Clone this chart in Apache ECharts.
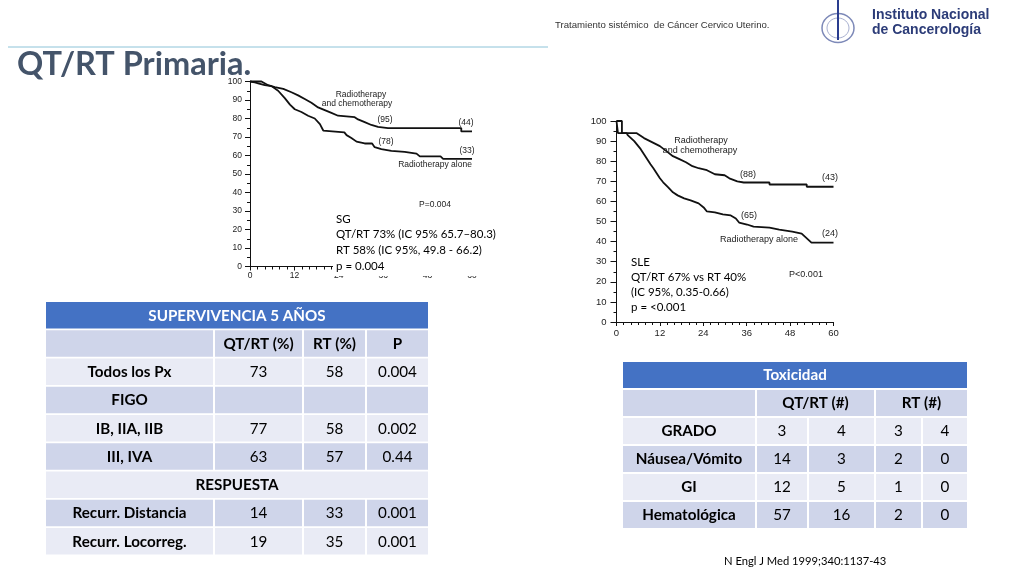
<!DOCTYPE html>
<html><head><meta charset="utf-8">
<script src="https://cdn.jsdelivr.net/npm/echarts@6/dist/echarts.min.js"></script>
<style>html,body{margin:0;padding:0;background:#fff}#c{width:1024px;height:576px}</style>
</head><body><div id="c"></div>
<script>
// ---------- DATA ----------
// Overall survival (SG), months vs % surviving
const sgChemo = [[0,100],[3.1,100],[3.1,99],[4.9,98],[6.7,97],[9.0,96],[11.2,94.2],[13.0,92.5],[14.8,90.5],[16.6,88.5],[18.4,86],[20.2,84.5],[22.0,83],[23.8,81.5],[24.3,80.7],[28.3,80.7],[29.2,79.5],[31.0,78],[32.8,76.5],[34.6,75.5],[37.3,74.8],[57.1,74.8],[57.1,73],[60,73]];
const sgRT = [[0,100],[1.3,99.5],[2.2,99],[4.0,98],[5.8,97.5],[7.6,95],[9.4,91],[10.8,87.5],[12.1,85],[13.9,83.5],[15.7,81.5],[17.5,80],[18.9,77],[19.8,73.5],[20.2,72.5],[25.5,72.5],[26.1,71],[27.4,69.5],[28.8,67.5],[31.0,66.5],[33.0,66.5],[33.7,64.5],[35.5,63.5],[38.2,62.5],[41.8,62],[45.0,61],[45.9,59.5],[51.5,59.5],[52.2,58.2],[60,58.2]];
// Disease-free survival (SLE)
const sleChemo = [[0,100],[1.5,100],[1.5,94],[5.5,94],[7.6,91.5],[9.8,89.5],[12,87.5],[13.8,85],[15.6,82.5],[17.4,81],[19.2,79.5],[21,77.5],[22.7,76.5],[25,75.5],[27.2,73.5],[29.9,73],[31.2,71.5],[33.4,70],[35.2,69.4],[42.3,69.4],[42.3,68.4],[52.6,68.4],[52.6,67.3],[60,67.3]];
const sleRT = [[0,100],[0.4,100],[0.4,94],[2.8,94],[3.1,93],[4,91.5],[4.9,90],[5.8,88],[6.7,86],[7.6,83.5],[8.5,81],[9.4,78.5],[10.2,76.5],[11.1,74],[12,71.5],[12.9,69.5],[14.3,67],[15.6,64.5],[16.9,63],[18.7,61.5],[20.5,60.5],[22.7,59],[24.1,57],[25,55],[27.2,54.5],[29.4,53.5],[31.6,53],[33,51.5],[33.9,49.5],[36.1,48.5],[37.9,47.5],[42.3,47],[45,46],[48.6,45],[51.2,44],[52.1,42.5],[53,41],[53.9,39.5],[60,39.5]];

const sgNotes = ['SG','QT/RT 73% (IC 95% 65.7–80.3)','RT 58% (IC 95%, 49.8 - 66.2)','p = 0.004'];
const sleNotes = ['SLE','QT/RT 67% vs RT 40%','(IC 95%, 0.35-0.66)','p = <0.001'];

// Survival table
const survTitle = 'SUPERVIVENCIA 5 AÑOS';
const survColHead = ['', 'QT/RT (%)', 'RT (%)', 'P'];
const survRowLabels = ['Todos los Px','FIGO','IB, IIA, IIB','III, IVA','RESPUESTA','Recurr. Distancia','Recurr. Locorreg.'];
const survQTRT = ['73','','77','63',null,'14','19'];
const survRT   = ['58','','58','57',null,'33','35'];
const survP    = ['0.004','','0.002','0.44',null,'0.001','0.001'];

// Toxicity table
const toxTitle = 'Toxicidad';
const toxGroups = ['QT/RT (#)', 'RT (#)'];
const toxRowLabels = ['GRADO','Náusea/Vómito','GI','Hematológica'];
const toxQTRTg3 = ['3','14','12','57'];
const toxQTRTg4 = ['4','3','5','16'];
const toxRTg3   = ['3','2','1','2'];
const toxRTg4   = ['4','0','0','0'];

// ---------- RENDER ----------
const chart = echarts.init(document.getElementById('c'), null, {renderer:'canvas'});
const CAL = 'Lato, "Open Sans", sans-serif';
const ARI = '"Liberation Sans", Arial, sans-serif';
const DARK = '#cfd5ea', LIGHT = '#e9ebf5', BLUE = '#4472c4';

function txt(x, y, text, o) {
  o = o || {};
  return {type:'text', x:x, y:y, z:o.z||50, silent:true, style:{text:text, fill:o.color||'#000',
    font:(o.weight||'normal')+' '+(o.size||12)+'px '+(o.family||CAL),
    align:o.align||'left', verticalAlign:o.va||'middle'}};
}
function rect(x, y, w, h, fill, z) {
  return {type:'rect', z:z||10, silent:true, shape:{x:x,y:y,width:w,height:h}, style:{fill:fill}};
}
const G = [];
function cell(x0, x1, y, h, fill, text, bold, color) {
  G.push(rect(x0, y, x1-x0, h, fill, 10));
  if (text !== '' && text != null) G.push(txt((x0+x1)/2, y+h/2+0.5, text, {align:'center', size:15.2, weight:bold?'bold':'normal', color:color||'#000', z:11}));
}

// survival table
(function(){
  const ce = [46,214,303,366,428];
  const top = 302, step = 28.25, h = 26.5;
  cell(ce[0], ce[4], top, h, BLUE, survTitle, true, '#fff');
  let y = top + step;
  const ins = (i)=>[ce[i]+(i>0?1:0), ce[i+1]-(i<3?1:0)];
  for (let c=0;c<4;c++){ const [a,b]=ins(c); cell(a,b,y,h,DARK,survColHead[c],true); }
  for (let r=0;r<survRowLabels.length;r++){
    y = top + step*(r+2);
    const fill = r%2===0 ? LIGHT : DARK;
    if (survQTRT[r]===null){ cell(ce[0],ce[4],y,h,fill,survRowLabels[r],true); continue; }
    const vals=[survRowLabels[r],survQTRT[r],survRT[r],survP[r]];
    for (let c=0;c<4;c++){ const [a,b]=ins(c); cell(a,b,y,h,fill,vals[c],c===0); }
  }
})();

// toxicity table
(function(){
  const ce = [623,756,808,875,922,967];
  const top = 362, step = 28, h = 26;
  cell(ce[0], ce[5], top, h, BLUE, toxTitle, true, '#fff');
  let y = top + step;
  cell(ce[0], ce[1]-1, y, h, DARK, '', true);
  cell(ce[1]+1, ce[3]-1, y, h, DARK, toxGroups[0], true);
  cell(ce[3]+1, ce[5], y, h, DARK, toxGroups[1], true);
  for (let r=0;r<toxRowLabels.length;r++){
    y = top + step*(r+2);
    const fill = r%2===0 ? LIGHT : DARK;
    const vals=[toxRowLabels[r],toxQTRTg3[r],toxQTRTg4[r],toxRTg3[r],toxRTg4[r]];
    for (let c=0;c<5;c++){ cell(ce[c]+(c>0?1:0), ce[c+1]-(c<4?1:0), y, h, fill, vals[c], c===0); }
  }
})();

// header, title, logo
G.push(txt(555, 25, 'Tratamiento sistémico  de Cáncer Cervico Uterino.', {size:9.6, family:ARI, color:'#333'}));
G.push(txt(872, 15, 'Instituto Nacional', {size:14, family:ARI, weight:'bold', color:'#2c3c78'}));
G.push(txt(872, 30, 'de Cancerología', {size:14, family:ARI, weight:'bold', color:'#2c3c78'}));
G.push({type:'ellipse', z:20, silent:true, shape:{cx:838, cy:28, rx:16, ry:14.5}, style:{fill:'#fff', stroke:'#7d89b8', lineWidth:1.5}});
G.push({type:'ellipse', z:20, silent:true, shape:{cx:838, cy:28, rx:11, ry:10}, style:{fill:'none', stroke:'#a8b0d0', lineWidth:1}});
G.push({type:'line', z:21, silent:true, shape:{x1:838, y1:0, x2:838, y2:40}, style:{stroke:'#2a3d8f', lineWidth:2}});
G.push({type:'line', z:5, silent:true, shape:{x1:8, y1:47, x2:548, y2:47}, style:{stroke:'#8cc3d8', lineWidth:1}});
G.push(txt(17, 65, 'QT/RT Primaria.', {size:32.5, weight:'bold', color:'#44546a', z:60}));
G.push(txt(724, 561, 'N Engl J Med 1999;340:1137-43', {size:11.2}));

// left chart annotations
const A8 = {size:8.5, family:ARI, color:'#222', align:'center'};
G.push(txt(361, 95, 'Radiotherapy', A8));
G.push(txt(357, 104, 'and chemotherapy', A8));
G.push(txt(385, 120, '(95)', A8));
G.push(txt(466, 123, '(44)', A8));
G.push(txt(386, 142, '(78)', A8));
G.push(txt(467, 151, '(33)', A8));
G.push(txt(435, 165, 'Radiotherapy alone', A8));
G.push(txt(435, 205, 'P=0.004', A8));
G.push(rect(333, 209, 165, 67, '#fff', 90));
sgNotes.forEach((s,i)=>G.push(txt(336, 219+i*15.7, s, {size:11.5, z:95})));

// right chart annotations
const A9 = {size:9, family:ARI, color:'#222', align:'center'};
G.push(txt(701, 141, 'Radiotherapy', A9));
G.push(txt(700, 151, 'and chemotherapy', A9));
G.push(txt(748, 175, '(88)', A9));
G.push(txt(830, 178, '(43)', A9));
G.push(txt(749, 216, '(65)', A9));
G.push(txt(830, 234, '(24)', A9));
G.push(txt(759, 240, 'Radiotherapy alone', A9));
G.push(txt(806, 275, 'P<0.001', A9));
sleNotes.forEach((s,i)=>G.push(txt(631, 262+i*15, s, {size:11.5})));

function xAx(g, fs, margin){
  return {gridIndex:g, type:'value', min:0, max:60, interval:12,
    axisLine:{show:true, onZero:false, lineStyle:{color:'#111', width:1}},
    axisTick:{show:true, length:4, lineStyle:{color:'#111'}},
    minorTick:{show:true, splitNumber:6, length:3, lineStyle:{color:'#111'}},
    axisLabel:{fontSize:fs, color:'#222', margin:margin, fontFamily:ARI},
    splitLine:{show:false}, minorSplitLine:{show:false}};
}
function yAx(g, fs, margin, tl){
  return {gridIndex:g, type:'value', min:0, max:100, interval:10,
    axisLine:{show:true, onZero:false, lineStyle:{color:'#111', width:1}},
    axisTick:{show:true, length:tl, lineStyle:{color:'#111'}},
    minorTick:{show:true, splitNumber:2, length:3, lineStyle:{color:'#111'}},
    axisLabel:{fontSize:fs, color:'#222', margin:margin, fontFamily:ARI},
    splitLine:{show:false}, minorSplitLine:{show:false}};
}
function km(data, xi, yi){
  return {type:'line', xAxisIndex:xi, yAxisIndex:yi, data:data, showSymbol:false, symbol:'none',
    clip:false, lineStyle:{color:'#111', width:1.8}, animation:false, silent:true};
}

chart.setOption({
  animation:false,
  backgroundColor:'#fff',
  grid:[{left:250, top:81.5, width:222, height:185},{left:616.5, top:121, width:217, height:201}],
  xAxis:[xAx(0, 8.5, 5), xAx(1, 9.5, 6)],
  yAxis:[yAx(0, 8.5, 8, 5), yAx(1, 9.5, 10, 6)],
  series:[km(sgChemo,0,0), km(sgRT,0,0), km(sleChemo,1,1), km(sleRT,1,1)],
  graphic:{elements:G}
});
</script>
</body></html>
